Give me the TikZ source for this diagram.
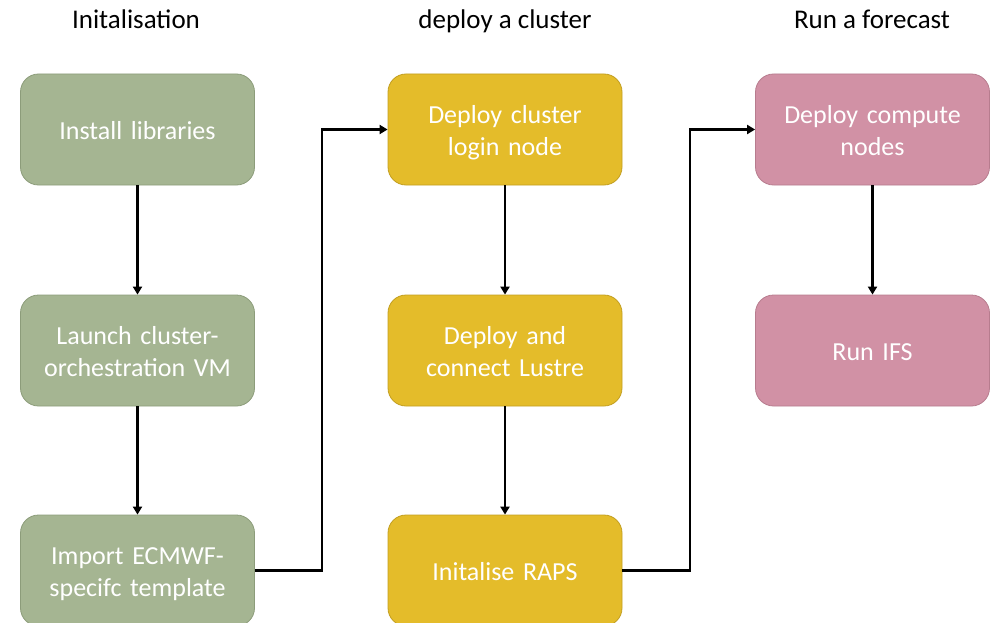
\documentclass[tikz,border=0pt]{standalone}
\usepackage{fontspec}
\setmainfont{Carlito}
\usetikzlibrary{arrows.meta}
\definecolor{gfill}{HTML}{A5B592}
\definecolor{gdraw}{HTML}{8C9C7A}
\definecolor{yfill}{HTML}{E4BC2A}
\definecolor{ydraw}{HTML}{C29E20}
\definecolor{pfill}{HTML}{D191A5}
\definecolor{pdraw}{HTML}{B77C8E}
\newcommand{\boxstrut}{\rule[-6pt]{0pt}{32pt}}
\begin{document}
\begin{tikzpicture}[x=1pt,y=-1pt,
  box/.style={rounded corners=18pt, minimum width=234pt, minimum height=111pt,
    inner sep=0pt, text width=225pt, align=center, text=white,
    font=\fontsize{26}{32}\selectfont, line width=0.8pt,
    execute at begin node=\boxstrut, execute at end node=\boxstrut},
  gbox/.style={box, fill=gfill, draw=gdraw},
  ybox/.style={box, fill=yfill, draw=ydraw},
  pbox/.style={box, fill=pfill, draw=pdraw},
  ttl/.style={font=\fontsize{27}{30}\selectfont, text=black, text height=18pt, text depth=6pt},
  conn/.style={line width=2.6pt, -{Triangle[length=8pt,width=9pt]}}]
\useasboundingbox (0,0) rectangle (995,623);
\clip (0,0) rectangle (995,623);
\node[ttl] (t1) at (136,22.5) {Initalisation};
\node[ttl] (t2) at (505,22.5) {deploy a cluster};
\node[ttl] (t3) at (872,22.5) {Run a forecast};

\node[gbox] (a1) at (137.5,129.5) {Install libraries};
\node[gbox] (a2) at (137.5,350.5) {Launch cluster-\\orchestration VM};
\node[gbox] (a3) at (137.5,570.5) {Import ECMWF-\\specifc template};

\node[ybox] (b1) at (505,129.5) {Deploy cluster\\login node};
\node[ybox] (b2) at (505,350.5) {Deploy and\\connect Lustre};
\node[ybox] (b3) at (505,570.5) {Initalise RAPS};

\node[pbox] (c1) at (872.5,129.5) {Deploy compute\\nodes};
\node[pbox] (c2) at (872.5,350.5) {Run IFS};

\draw[conn] (a1) -- (a2);
\draw[conn] (a2) -- (a3);
\draw[conn] (b1) -- (b2);
\draw[conn] (b2) -- (b3);
\draw[conn] (c1) -- (c2);
\draw[conn] (a3.east) -- (322,570.5) -- (322,129.5) -- (b1.west);
\draw[conn] (b3.east) -- (690,570.5) -- (690,129.5) -- (c1.west);
\end{tikzpicture}
\end{document}
